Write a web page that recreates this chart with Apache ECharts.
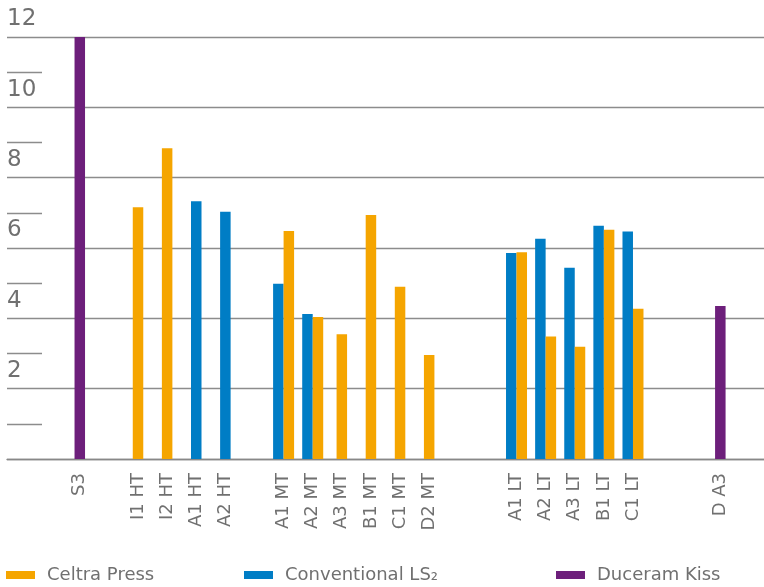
<!DOCTYPE html>
<html>
<head>
<meta charset="UTF-8">
<title>Celtra Press / Conventional LS2 / Duceram Kiss</title>
<style type="text/css">
html, body {
	margin: 0;
	padding: 0;
	background: #fff;
}
#main {
	width: 764px;
	height: 587px;
}
</style>
</head>
<body>
	<div id="main"></div>
<script type="text/javascript" src="https://cdn.jsdelivr.net/npm/echarts@6/dist/echarts.min.js"></script>
<script type="text/javascript">
	// categories (blank strings are the gaps between groups)
	var categories = [ ' ', '  ', 'S3', '   ', 'I1 HT', 'I2 HT', 'A1 HT', 'A2 HT', '    ',
			'A1 MT', 'A2 MT', 'A3 MT', 'B1 MT', 'C1 MT', 'D2 MT', '     ', '      ',
			'A1 LT', 'A2 LT', 'A3 LT', 'B1 LT', 'C1 LT', '       ', '        ', 'D A3', '         ' ];
	var celtra = [ null, null, null, null, 7.16, 8.84, null, null, null,
			6.48, 4.04, 3.55, 6.94, 4.90, 2.96, null, null,
			5.88, 3.48, 3.19, 6.52, 4.27, null, null, null, null ];
	var conventional = [ null, null, null, null, null, null, 7.33, 7.03, null,
			4.98, 4.12, null, null, null, null, null, null,
			5.86, 6.26, 5.44, 6.63, 6.47, null, null, null, null ];
	var duceram = [ null, null, 12.0, null, null, null, null, null, null,
			null, null, null, null, null, null, null, null,
			null, null, null, null, null, null, null, 4.35, null ];
	var yTicks = [ 0, 2, 4, 6, 8, 10, 12 ];

	var names = [ 'Celtra Press', 'Conventional LS\u2082', 'Duceram Kiss' ];
	var colors = [ '#F5A500', '#007DC5', '#6D1F7B' ];
	var font = 'DejaVu Sans';

	// paired bars (both values present) sit side by side, single bars are centered
	var pairOrange = [], pairBlue = [], oneOrange = [], oneBlue = [], onePurple = [];
	for (var i = 0; i < categories.length; i++) {
		var both = celtra[i] != null && conventional[i] != null;
		pairOrange.push(both ? celtra[i] : null);
		pairBlue.push(both ? conventional[i] : null);
		oneOrange.push(!both ? celtra[i] : null);
		oneBlue.push(!both ? conventional[i] : null);
		onePurple.push(duceram[i]);
	}

	var chart = echarts.init(document.getElementById('main'));

	function legendAt(left, idx) {
		return {
			data : [ names[idx] ],
			left : left,
			top : 565,
			padding : 0,
			icon : 'rect',
			itemWidth : 29,
			itemHeight : 8,
			selectedMode : false,
			textStyle : {
				fontFamily : font,
				fontSize : 18,
				color : '#707070',
				lineHeight : 20,
				padding : [ 0, 0, 0, 7 ]
			}
		};
	}

	var option = {
		animation : false,
		backgroundColor : '#fff',
		grid : {
			left : 7,
			right : 0,
			top : 37,
			bottom : 128
		},
		legend : [ legendAt(6, 0), legendAt(244, 1), legendAt(556, 2) ],
		xAxis : [ {
			type : 'category',
			data : categories,
			axisLine : {
				lineStyle : {
					color : '#888',
					width : 1.3
				}
			},
			axisTick : {
				show : false
			},
			axisLabel : {
				interval : 0,
				rotate : 90,
				margin : 14,
				fontFamily : font,
				fontSize : 18,
				color : '#707070'
			}
		}, {
			type : 'category',
			data : categories,
			show : false
		} ],
		yAxis : {
			type : 'value',
			min : yTicks[0],
			max : yTicks[yTicks.length - 1],
			interval : 2,
			axisLine : {
				show : false
			},
			axisTick : {
				show : false,
				inside : true
			},
			minorTick : {
				show : true,
				splitNumber : 2,
				length : 35,
				lineStyle : {
					color : '#8c8c8c',
					width : 1.3
				}
			},
			splitLine : {
				lineStyle : {
					color : '#8c8c8c',
					width : 1.3
				}
			},
			axisLabel : {
				inside : true,
				margin : 0,
				verticalAlign : 'bottom',
				padding : [ 0, 0, 6, 0 ],
				fontFamily : font,
				fontSize : 23,
				color : '#707070',
				formatter : function(v) {
					return v === 0 ? '' : String(v);
				}
			}
		},
		series : [ {
			name : names[1],
			type : 'bar',
			xAxisIndex : 0,
			data : pairBlue,
			barWidth : 10.5,
			barGap : '0%',
			itemStyle : {
				color : colors[1]
			}
		}, {
			name : names[0],
			type : 'bar',
			xAxisIndex : 0,
			data : pairOrange,
			barWidth : 10.5,
			barGap : '0%',
			itemStyle : {
				color : colors[0]
			}
		}, {
			name : names[0],
			type : 'bar',
			xAxisIndex : 1,
			stack : 'single',
			data : oneOrange,
			barWidth : 10.5,
			itemStyle : {
				color : colors[0]
			}
		}, {
			name : names[1],
			type : 'bar',
			xAxisIndex : 1,
			stack : 'single',
			data : oneBlue,
			barWidth : 10.5,
			itemStyle : {
				color : colors[1]
			}
		}, {
			name : names[2],
			type : 'bar',
			xAxisIndex : 1,
			stack : 'single',
			data : onePurple,
			barWidth : 10.5,
			itemStyle : {
				color : colors[2]
			}
		} ]
	};

	chart.setOption(option);
</script>
</body>
</html>
